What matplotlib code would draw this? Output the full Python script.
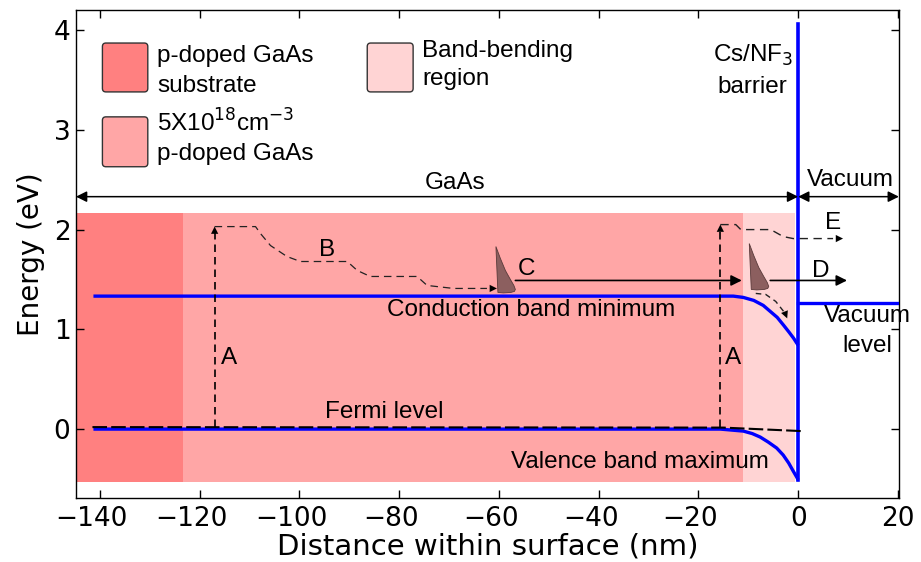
import numpy as np
import matplotlib.pyplot as plt
import matplotlib.transforms as mtransforms
from matplotlib.patches import Rectangle, FancyBboxPatch, Polygon

plt.rcParams['font.family'] = ['Liberation Sans', 'DejaVu Sans']

# ---- data ----
# doped regions (nm, eV)
region_x0 = [-144.8, -123.4, -11.0]
region_x1 = [-123.4, -11.0, -0.6]
region_y0 = -0.53
region_y1 = 2.17

# conduction band minimum / valence band maximum
cbm_x = [-141.3, -13.0, -11.0, -8.9, -7.0, -5.6, -4.2, -2.9, -1.8, -0.9, 0.0]
cbm_y = [1.333, 1.333, 1.32, 1.29, 1.24, 1.18, 1.12, 1.04, 0.97, 0.91, 0.84]
vbm_x = [-141.3, -15.6, -11.0, -9.2, -7.6, -6.0, -4.3, -3.0, -1.9, -1.0, -0.3, 0.0]
vbm_y = [0.0, 0.0, -0.02, -0.045, -0.08, -0.13, -0.19, -0.26, -0.34, -0.42, -0.48, -0.51]
fermi_x = [-141.5, -15.0, 0.7]
fermi_y = [0.02, 0.015, -0.02]
barrier_y = [-0.51, 4.06]
vac_level_x = [0.0, 20.2]
vac_level_y = [1.266, 1.266]

# excitation arrows A (x, y_from, y_to)
exc_x = [-117.0, -15.6]
exc_y0 = 0.02
exc_y1 = [2.03, 2.05]

# thermalisation path B
b_x = [-117.0, -108.8, -107.8, -105.8, -102.5, -99.8, -90.4, -88.4, -85.8,
       -76.4, -74.4, -69.1, -66.4, -60.4]
b_y = [2.03, 2.03, 1.96, 1.84, 1.73, 1.68, 1.68, 1.59, 1.53,
       1.53, 1.44, 1.41, 1.41, 1.41]
# hot electron path E
e_x = [-15.6, -12.5, -11.5, -5.5, -3.0, -1.0, 9.0]
e_y = [2.05, 2.05, 2.0, 2.0, 1.93, 1.91, 1.91]
# drop along bent band after second packet
drop_x = [-8.5, -6.5, -4.5, -2.2]
drop_y = [1.36, 1.35, 1.28, 1.11]

# transport arrows C and D (x_from, x_to) at same energy
trans_x0 = [-56.7, -5.6]
trans_x1 = [-11.3, 9.8]
trans_y = 1.49

# electron packet outline (offsets from base-left corner) and packet anchors
pk_dx = [-0.3, 0.6, 1.6, 2.6, 3.3, 3.6, 3.4, 2.7, 1.2, 0.1]
pk_dy = [0.46, 0.34, 0.22, 0.13, 0.07, 0.03, 0.01, 0.0, -0.005, 0.0]
pk_x = [-60.3, -9.5]
pk_y = [1.37, 1.40]

# legend swatches
leg_x0 = [-139.5, -139.5, -86.4]
leg_x1 = [-130.4, -130.4, -77.2]
leg_y0 = [3.38, 2.63, 3.38]
leg_y1 = [3.87, 3.13, 3.87]
leg_text_x = [-128.5, -128.5, -75.4]
leg_line1 = ['p-doped GaAs', r'5X10$^{18}$cm$^{-3}$', 'Band-bending']
leg_line2 = ['substrate', 'p-doped GaAs', 'region']
leg_line1_y = [3.68, 2.98, 3.73]
leg_line2_y = [3.38, 2.70, 3.45]

x_ticks = [-140, -120, -100, -80, -60, -40, -20, 0, 20]
y_ticks = [0, 1, 2, 3, 4]

region_colors = ['#FF8080', '#FFA6A6', '#FFD4D4']
blue = '#0000FF'

fig = plt.figure(figsize=(9.21, 5.62), dpi=100)
ax = fig.add_axes([0.0825, 0.114, 0.8935, 0.868])
ax.set_xlim(-144.8, 20.2)
ax.set_ylim(-0.69, 4.2)

for x0, x1, c in zip(region_x0, region_x1, region_colors):
    ax.add_patch(Rectangle((x0, region_y0), x1 - x0, region_y1 - region_y0,
                           facecolor=c, edgecolor='none', zorder=0))

# band lines
ax.plot(cbm_x, cbm_y, color=blue, lw=2.4, zorder=3, solid_capstyle='butt')
ax.plot(vbm_x, vbm_y, color=blue, lw=2.4, zorder=3, solid_capstyle='butt')
ax.plot([0, 0], barrier_y, color=blue, lw=2.6, zorder=3)
ax.plot(vac_level_x, vac_level_y, color=blue, lw=2.4, zorder=3)
ax.plot(fermi_x, fermi_y, color='k', lw=1.5, dashes=(7, 2), zorder=4)


def head(x0, y0, x1, y1, ms=13):
    ax.annotate('', xy=(x1, y1), xytext=(x0, y0),
                arrowprops=dict(arrowstyle='-|>', lw=0.01, color='k',
                                mutation_scale=ms, shrinkA=0, shrinkB=0),
                zorder=6)


# A arrows
for x, y1 in zip(exc_x, exc_y1):
    ax.plot([x, x], [exc_y0, y1 - 0.05], color='k', lw=1.2, dashes=(4.5, 3), zorder=5)
    head(x, y1 - 0.2, x, y1)

# B and E paths
ax.plot(b_x[:-1] + [b_x[-1] - 2], b_y, color='#222222', lw=0.9, dashes=(6, 4), zorder=5)
head(b_x[-1] - 3, b_y[-1], b_x[-1], b_y[-1])
ax.plot(e_x[:-1] + [e_x[-1] - 2], e_y, color='#222222', lw=1.0, dashes=(6, 4), zorder=5)
head(e_x[-1] - 3, e_y[-1], e_x[-1], e_y[-1])
ax.plot(drop_x[:-1] + [drop_x[-1] - 0.4], drop_y[:-1] + [drop_y[-1] + 0.05],
        color='#222222', lw=1.0, dashes=(4, 3), zorder=5)
head(drop_x[-1] - 0.8, drop_y[-1] + 0.1, drop_x[-1], drop_y[-1])

# C and D arrows
for x0, x1 in zip(trans_x0, trans_x1):
    ax.annotate('', xy=(x1, trans_y), xytext=(x0, trans_y),
                arrowprops=dict(arrowstyle='-|>', lw=1.2, color='k',
                                mutation_scale=16, shrinkA=0, shrinkB=0),
                zorder=5)

# electron packets
for px, py in zip(pk_x, pk_y):
    pts = np.column_stack([px + np.array(pk_dx), py + np.array(pk_dy)])
    ax.add_patch(Polygon(pts, closed=True, facecolor='#8C5F5F',
                         edgecolor='#5A3A3A', lw=0.6, zorder=6))

# GaAs / Vacuum span arrows
span_y = 2.33
ax.annotate('', xy=(0, span_y), xytext=(-144.8, span_y),
            arrowprops=dict(arrowstyle='<|-|>', lw=1.1, color='k',
                            mutation_scale=16, shrinkA=0, shrinkB=0))
ax.annotate('', xy=(20.2, span_y), xytext=(0, span_y),
            arrowprops=dict(arrowstyle='<|-|>', lw=1.1, color='k',
                            mutation_scale=16, shrinkA=0, shrinkB=0))

# legend swatches
for x0, x1, y0, y1, c in zip(leg_x0, leg_x1, leg_y0, leg_y1, region_colors):
    ax.add_patch(FancyBboxPatch((x0, y0), x1 - x0, y1 - y0,
                                boxstyle='round,pad=0,rounding_size=0.7',
                                mutation_aspect=0.05, facecolor=c,
                                edgecolor='#333333', lw=1.0, zorder=5))
fs = 17.5
for x, l1, l2, y1, y2 in zip(leg_text_x, leg_line1, leg_line2, leg_line1_y, leg_line2_y):
    ax.text(x, y1, l1, fontsize=fs, va='baseline', ha='left')
    ax.text(x, y2, l2, fontsize=fs, va='baseline', ha='left')

# labels
ax.text(-68.7, 2.41, 'GaAs', fontsize=fs, ha='center', va='baseline')
ax.text(10.4, 2.44, 'Vacuum', fontsize=fs, ha='center', va='baseline')
ax.text(-9.0, 3.68, r'Cs/NF$_3$', fontsize=fs, ha='center', va='baseline')
ax.text(-9.1, 3.37, 'barrier', fontsize=fs, ha='center', va='baseline')
ax.text(-53.6, 1.13, 'Conduction band minimum', fontsize=fs, ha='center', va='baseline')
ax.text(-82.9, 0.107, 'Fermi level', fontsize=fs, ha='center', va='baseline')
ax.text(-31.8, -0.39, 'Valence band maximum', fontsize=fs, ha='center', va='baseline')
ax.text(13.8, 1.07, 'Vacuum', fontsize=fs, ha='center', va='baseline')
ax.text(13.9, 0.77, 'level', fontsize=fs, ha='center', va='baseline')
ax.text(-114.2, 0.65, 'A', fontsize=fs, ha='center', va='baseline')
ax.text(-13.0, 0.65, 'A', fontsize=fs, ha='center', va='baseline')
ax.text(-94.4, 1.74, 'B', fontsize=fs, ha='center', va='baseline')
ax.text(-54.4, 1.54, 'C', fontsize=fs, ha='center', va='baseline')
ax.text(4.5, 1.52, 'D', fontsize=fs, ha='center', va='baseline')
ax.text(7.0, 2.01, 'E', fontsize=fs, ha='center', va='baseline')

ax.set_xticks(x_ticks)
ax.set_yticks(y_ticks)
ax.tick_params(direction='in', length=6, width=1, top=True, right=True,
               labelsize=19)
ax.tick_params(axis='x', pad=6)
ax.tick_params(axis='y', pad=4)
for lab in ax.get_xticklabels() + ax.get_yticklabels():
    lab.set_family('DejaVu Sans')
# negative x labels sit a little left of their ticks in the reference
shift = mtransforms.ScaledTranslation(-8 / 100, 0, fig.dpi_scale_trans)
for v, lab in zip(x_ticks, ax.get_xticklabels()):
    if v < 0:
        lab.set_transform(lab.get_transform() + shift)
for s in ax.spines.values():
    s.set_linewidth(1.0)
ax.set_xlabel('Distance within surface (nm)', fontsize=21, family='DejaVu Sans', labelpad=0)
ax.set_ylabel('Energy (eV)', fontsize=20, family='DejaVu Sans', labelpad=6)

fig.savefig('out.png', dpi=100)
